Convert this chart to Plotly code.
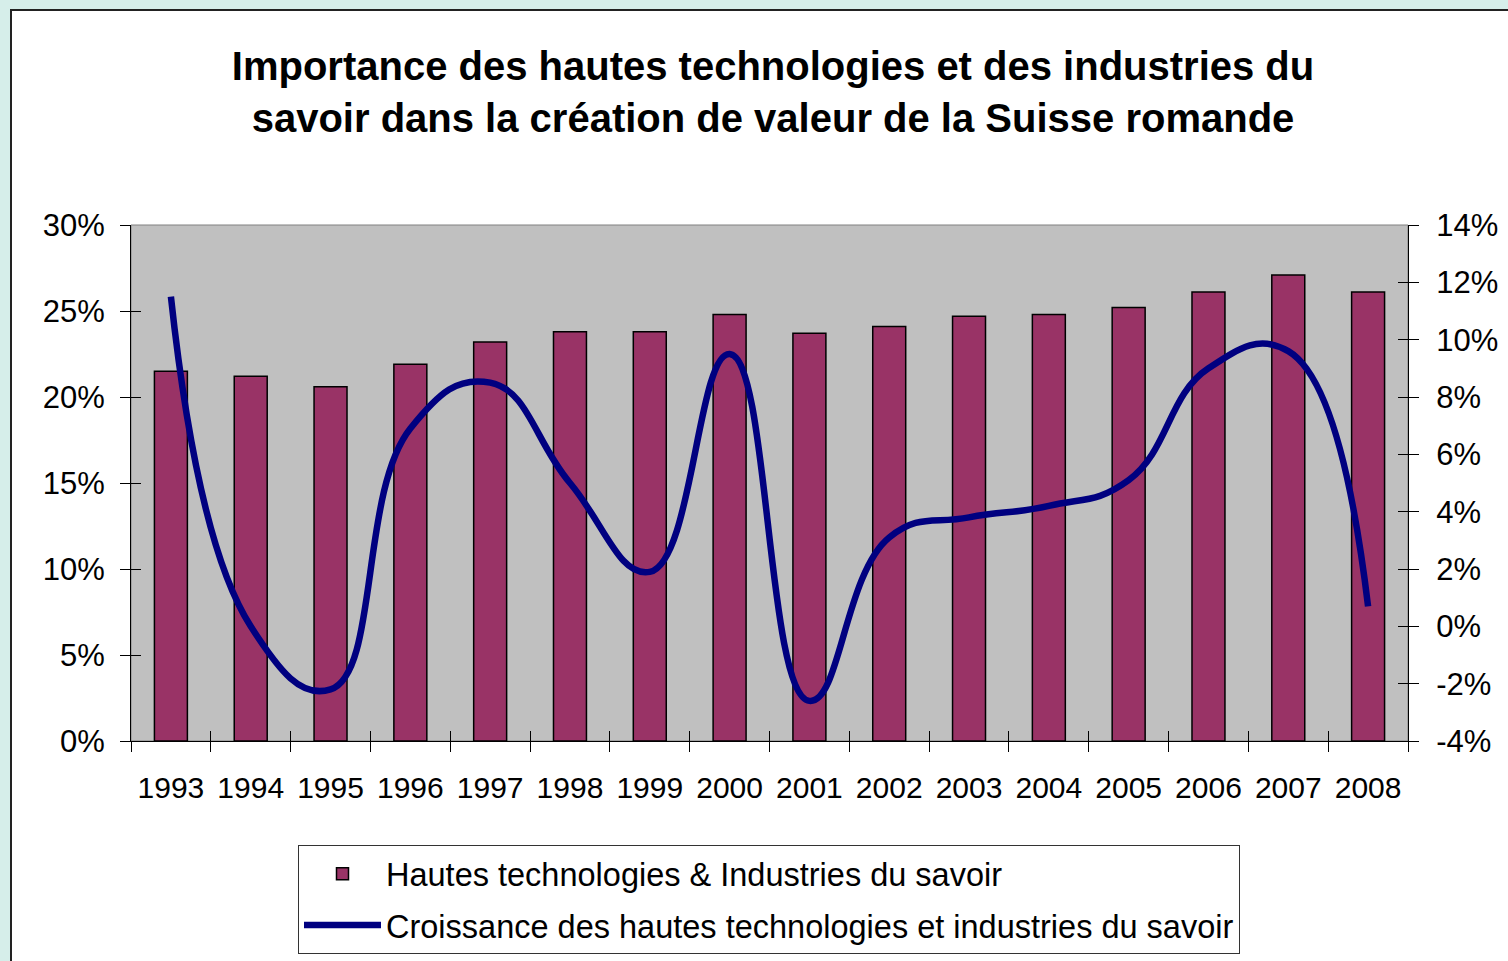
import plotly.graph_objects as go

# ---- data ----
years = ["1993", "1994", "1995", "1996", "1997", "1998", "1999", "2000",
         "2001", "2002", "2003", "2004", "2005", "2006", "2007", "2008"]
share_pct = [21.5, 21.2, 20.6, 21.9, 23.2, 23.8, 23.8, 24.8,
             23.7, 24.1, 24.7, 24.8, 25.2, 26.1, 27.1, 26.1]
growth_pct = [11.5, 0.0, -2.2, 6.9, 8.5, 5.0, 1.9, 9.5,
              -2.6, 3.1, 3.8, 4.2, 5.1, 9.0, 9.6, 0.7]

left_tickvals = [0, 5, 10, 15, 20, 25, 30]
left_ticktext = ["0%", "5%", "10%", "15%", "20%", "25%", "30%"]
right_tickvals = [-4, -2, 0, 2, 4, 6, 8, 10, 12, 14]
right_ticktext = ["-4%", "-2%", "0%", "2%", "4%", "6%", "8%", "10%", "12%", "14%"]
# category boundaries (for the inner half of the crossing x ticks)
x_boundaries = [-0.5, 0.5, 1.5, 2.5, 3.5, 4.5, 5.5, 6.5, 7.5,
                8.5, 9.5, 10.5, 11.5, 12.5, 13.5, 14.5, 15.5]

bar_name = "Hautes technologies & Industries du savoir"
line_name = "Croissance des hautes technologies et industries du savoir"
title_text = ("<b>Importance des hautes technologies et des industries du<br>"
              "savoir dans la création de valeur de la Suisse romande</b>")

FONT = "Liberation Sans, Arial, sans-serif"

fig = go.Figure()
fig.add_trace(go.Bar(
    x=years, y=share_pct, name=bar_name, legendgroup="a",
    marker=dict(color="#993366", line=dict(color="black", width=1.5)),
    xaxis="x", yaxis="y",
))
fig.add_trace(go.Scatter(
    x=years, y=growth_pct, name=line_name, legendgroup="b",
    mode="lines", line=dict(color="#000080", width=6.5, shape="spline", smoothing=1.3),
    xaxis="x", yaxis="y2",
))
# empty helper traces so that the overlay axes (inner tick halves) are drawn
for xa, ya in [("x2", "y"), ("x", "y3"), ("x", "y4")]:
    fig.add_trace(go.Scatter(x=[None], y=[None], xaxis=xa, yaxis=ya,
                             showlegend=False, hoverinfo="skip", mode="lines"))

W, H = 1508, 961
L, R, T, B = 131, 100, 225, 220
pw, ph = W - L - R, H - T - B

def px(x):
    return (x - L) / pw

def py(y):
    return (H - B - y) / ph

fig.update_layout(
    width=W, height=H,
    margin=dict(l=L, r=R, t=T, b=B, pad=0, autoexpand=False),
    paper_bgcolor="#D6EEEA",
    plot_bgcolor="rgba(0,0,0,0)",
    font=dict(family=FONT, color="black", size=30),
    title=dict(text=title_text, x=773 / W, xanchor="center", xref="container",
               y=1 - 80 / H, yanchor="middle", yref="container",
               font=dict(size=40, family=FONT, color="black")),
    bargap=0.587,
    showlegend=True,
    hovermode=False,
    legend=dict(x=298 / W, y=1 - 845 / H, xanchor="left", yanchor="top",
                xref="container", yref="container",
                bgcolor="white", bordercolor="#333333", borderwidth=1,
                font=dict(size=32.5, family=FONT, color="black"),
                itemwidth=77, tracegroupgap=6, traceorder="grouped"),
    xaxis=dict(type="category", showline=True, linecolor="black", linewidth=1,
               ticks="outside", tickson="boundaries", ticklen=10, tickcolor="black",
               tickfont=dict(size=30), showgrid=False, ticklabelstandoff=20,
               automargin=False, range=[-0.5, 15.5]),
    xaxis2=dict(overlaying="x", anchor="y", side="bottom", range=[-0.5, 15.5],
                tickmode="array", tickvals=x_boundaries, ticks="inside", ticklen=10,
                tickcolor="black", showticklabels=False, showline=False,
                showgrid=False, zeroline=False, automargin=False),
    yaxis=dict(range=[0, 30], tickvals=left_tickvals, ticktext=left_ticktext,
               showline=True, linecolor="black", linewidth=1, ticks="outside",
               ticklen=10, tickcolor="black", showgrid=False, zeroline=False,
               tickfont=dict(size=31), ticklabelstandoff=9, automargin=False),
    yaxis3=dict(range=[0, 30], overlaying="y", anchor="x", side="left",
                tickvals=left_tickvals, ticks="inside", ticklen=10, tickcolor="black",
                showticklabels=False, showline=False, showgrid=False,
                zeroline=False, automargin=False),
    yaxis2=dict(range=[-4, 14], tickvals=right_tickvals, ticktext=right_ticktext,
                overlaying="y", side="right", anchor="x", showline=True,
                linecolor="black", linewidth=1, ticks="outside", ticklen=10,
                tickcolor="black", showgrid=False, zeroline=False,
                tickfont=dict(size=31), ticklabelstandoff=11, automargin=False),
    yaxis4=dict(range=[-4, 14], overlaying="y", side="right", anchor="x",
                tickvals=right_tickvals, ticks="inside", ticklen=10, tickcolor="black",
                showticklabels=False, showline=False, showgrid=False,
                zeroline=False, automargin=False),
    shapes=[
        dict(type="rect", xref="paper", yref="paper", layer="below",
             x0=px(11), x1=px(1530), y0=py(990), y1=py(10),
             fillcolor="white", line=dict(color="#222222", width=2)),
        dict(type="rect", xref="paper", yref="paper", layer="below",
             x0=0, x1=1, y0=0, y1=1,
             fillcolor="#C0C0C0", line=dict(color="#808080", width=1)),
    ],
)

fig.write_html("out.html", config={"displayModeBar": False},
               post_script="document.body.style.margin='0';")
